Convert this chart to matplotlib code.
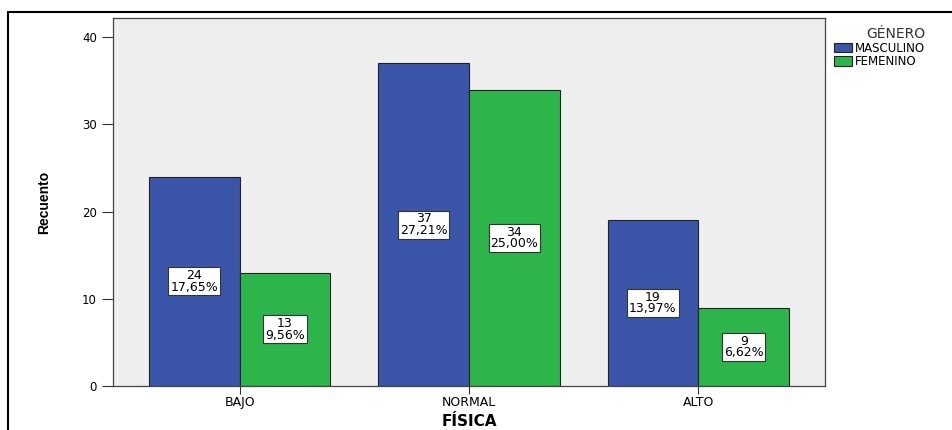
import numpy as np
import matplotlib
matplotlib.use("Agg")
import matplotlib.pyplot as plt
from matplotlib.patches import Rectangle

plt.rcParams['font.family'] = ['DejaVu Sans']

categorias = ['BAJO', 'NORMAL', 'ALTO']
masculino = [24, 37, 19]
femenino = [13, 34, 9]
pct_masculino = ['17,65%', '27,21%', '13,97%']
pct_femenino = ['9,56%', '25,00%', '6,62%']

azul = '#3B55A8'
verde = '#2DB54B'

fig = plt.figure(figsize=(9.52, 4.30), dpi=100)
ax = fig.add_axes([113/952, 1 - 386/430, (825-113)/952, (386-18)/430])
ax.set_facecolor('#EEEEEE')

x = np.arange(len(categorias))
w = 0.396
ax.bar(x - w/2, masculino, w, color=azul, edgecolor='#222222', linewidth=0.8, label='MASCULINO')
ax.bar(x + w/2, femenino, w, color=verde, edgecolor='#222222', linewidth=0.8, label='FEMENINO')

box = dict(boxstyle='square,pad=0.15', facecolor='white', edgecolor='#333333', linewidth=0.8)
for xi, v, p in zip(x - w/2, masculino, pct_masculino):
    ax.text(xi, v/2, f'{v}\n{p}', ha='center', va='center', fontsize=9,
            linespacing=0.85, bbox=box)
for xi, v, p in zip(x + w/2, femenino, pct_femenino):
    ax.text(xi, v/2, f'{v}\n{p}', ha='center', va='center', fontsize=9,
            linespacing=0.85, bbox=box)

ax.set_xlim(-0.552, 2.552)
ax.set_ylim(0, 42.2)
ax.set_yticks([0, 10, 20, 30, 40])
ax.set_xticks(x)
ax.set_xticklabels(categorias)
ax.tick_params(axis='both', labelsize=8.5, color='#333333', length=8, width=0.8, direction='out')
ax.tick_params(axis='x', length=6, pad=1, labelsize=9)
for s in ax.spines.values():
    s.set_color('#444444')
    s.set_linewidth(0.9)

ax.set_xlabel('FÍSICA', fontsize=11, fontweight='bold', labelpad=4)
ax.set_ylabel('Recuento', fontsize=10, fontweight='bold',
              family=['Liberation Sans Narrow', 'Liberation Sans'], labelpad=22)

leg = ax.legend(title='GÉNERO', loc='upper left', bbox_to_anchor=(1.002, 0.995),
                frameon=False, fontsize=8.5, title_fontsize=10,
                handlelength=1.6, handleheight=0.8, handletextpad=0.2,
                labelspacing=0.05, borderaxespad=0.2)
leg._legend_box.align = 'right'
leg.get_title().set_color('#333333')

# marco exterior
fig.patches.append(Rectangle((8/952, -0.1), 1.2, 1 - 12/430 + 0.1, transform=fig.transFigure,
                             fill=False, edgecolor='black', linewidth=1.5))

fig.savefig('out.png', dpi=100)
